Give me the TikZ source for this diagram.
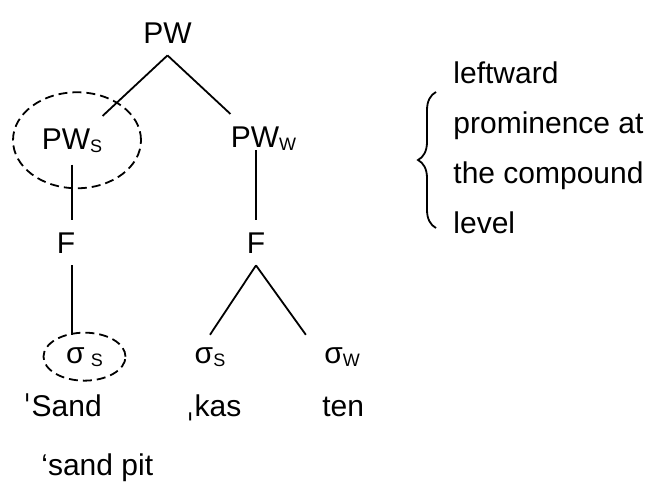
\documentclass[tikz,border=0pt]{standalone}
\usepackage{fontspec}
\setmainfont{Liberation Sans}
\newfontfamily\ipafont{DejaVu Sans}
\usepackage{tikz}
\usetikzlibrary{positioning,decorations.pathreplacing}
\newcommand{\lowtag}[1]{\raisebox{-1.5pt}{\fontsize{9}{9}\selectfont #1}}
\tikzstyle{lbl} = [inner xsep=0pt, inner ysep=6pt, anchor=base, font=\fontsize{15}{25}\selectfont]
\tikzstyle{branch} = [line width=0.9pt]
\tikzstyle{ring} = [line width=0.9pt, dash pattern=on 4.5pt off 2.5pt]
\tikzstyle{curly} = [line width=0.9pt, decorate, decoration={brace, amplitude=9pt}]

\begin{document}
\begin{tikzpicture}[x=0.5pt, y=-0.5pt]
\useasboundingbox (0,0) rectangle (651,482);
% prosodic words
\node[lbl] (pw) at (167.5,43) {PW};
\node[lbl] (pws) at (72,149) {PW\lowtag{S}};
\node[lbl] (pww) at (263.5,147) {PW\lowtag{W}};

% feet
\node[lbl] (fs) at (66,253) {F};
\node[lbl] (fw) at (256,253) {F};

% syllables
\node[lbl] (ss) at (84.5,363) {σ\kern3pt\lowtag{S}};
\node[lbl] (ks) at (210,363) {σ\lowtag{S}};
\node[lbl] (tw) at (342,363) {σ\lowtag{W}};

% segments and gloss
\node[lbl, anchor=base west] (sand) at (23,416) {{\ipafont ˈ}Sand};
\node[lbl, anchor=base west] (kas) at (186,416) {{\ipafont ˌ}kas};
\node[lbl, anchor=base west] (ten) at (322,416) {ten};
\node[lbl, anchor=base west] (gloss) at (41,475) {‘sand pit};

% side note
\node[lbl, anchor=north west, inner sep=0pt, align=left] (note) at (453,61) {leftward\\prominence at\\the compound\\level};
\draw[curly] (436,228) -- (436,92);

\draw[branch] (pw.south) -- (pws.north east);
\draw[branch] (pw.south) -- (pww.north west);
\draw[branch] (pws.south) -- (pws.south |- fs.north);
\draw[branch] (fs.south -| pws.south) -- (ss.north -| pws.south);
\draw[branch, shorten >=-6pt] (fw.north) -- (fw.north |- pww.south);
\draw[branch] (fw.south) -- (ks.north);
\draw[branch] (fw.south) -- ([xshift=-9pt]tw.north west);

\draw[ring] ([xshift=2.5pt]pws.center) ellipse [x radius=32pt, y radius=24pt];
\draw[ring] (ss.center) ellipse [x radius=20.5pt, y radius=12pt];
\end{tikzpicture}
\end{document}
